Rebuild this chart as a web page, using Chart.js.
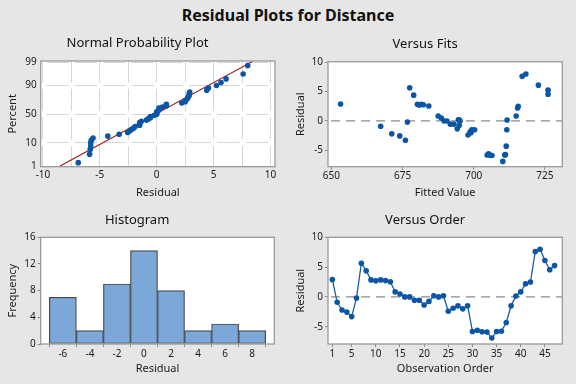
<!DOCTYPE html>
<html>
<head>
<meta charset="utf-8">
<title>Residual Plots for Distance</title>
<script src="https://cdn.jsdelivr.net/npm/chart.js@4.4.1/dist/chart.umd.min.js"></script>
<style>
    html, body { margin: 0; padding: 0; }
    body {
        width: 576px; height: 384px; position: relative; overflow: hidden;
        background: #e6e6e6; font-family: "Noto Sans", "DejaVu Sans", sans-serif;
    }
    #mainTitle {
        position: absolute; left: 0; top: 3px; width: 576px; line-height: 24px;
        text-align: center; font-size: 16px; font-weight: bold; color: #111;
    }
    .panel { position: absolute; width: 288px; }
</style>
</head>
<body>
<div id="mainTitle">Residual Plots for Distance</div>
<div class="panel" style="left:0;top:30px;height:175px"><canvas id="probChart"></canvas></div>
<div class="panel" style="left:288px;top:30px;height:175px"><canvas id="fitsChart"></canvas></div>
<div class="panel" style="left:0;top:205px;height:179px"><canvas id="histChart"></canvas></div>
<div class="panel" style="left:288px;top:205px;height:179px"><canvas id="orderChart"></canvas></div>

<script>
const residuals = [2.9, -0.9, -2.2, -2.55, -3.3, -0.2, 5.65, 4.4, 2.85, 2.7,
    2.85, 2.75, 2.55, 0.85, 0.5, 0.0, 0.0, -0.55, -0.55, -1.35,
    -0.75, 0.2, 0.0, 0.2, -2.4, -1.9, -1.5, -2.0, -1.5, -5.8,
    -5.6, -5.85, -5.9, -6.9, -5.8, -5.75, -4.3, -1.5, 0.15, 0.85,
    2.2, 2.5, 7.6, 8.0, 6.1, 4.55, 5.25];
// fitted values for the same observations ("Versus Fits" panel)
const fittedValues = [653.2, 667.3, 671.2, 674.0, 676.0, 676.7, 677.5, 678.9, 680.2, 680.9,
    681.6, 682.3, 684.2, 687.5, 688.6, 689.6, 690.6, 691.8, 693.0, 694.2,
    694.9, 694.6, 695.2, 694.9, 698.0, 698.7, 699.3, 699.0, 700.3, 704.7,
    705.2, 705.8, 706.4, 710.2, 710.9, 711.1, 711.4, 711.6, 711.7, 714.9,
    715.4, 715.6, 717.0, 718.3, 722.7, 726.1, 726.1];
// histogram
const histBinCenters = [-6, -4, -2, 0, 2, 4, 6, 8];
const histCounts = [7, 2, 9, 14, 8, 2, 3, 2];
// reference line of the normal probability plot
const probLineResidual = [-8.5, 8.45];
const probLinePercent = [1, 99.1];

// tick values
const probXTicks = [-10, -5, 0, 5, 10];
const probXGrid = [-10, -7.5, -5, -2.5, 0, 2.5, 5, 7.5, 10];
const probYTicks = [1, 10, 50, 90, 99];
const fitsXTicks = [650, 675, 700, 725];
const residTicks = [-5, 0, 5, 10];
const histXTicks = [-6, -4, -2, 0, 2, 4, 6, 8];
const histYTicks = [0, 4, 8, 12, 16];
const orderXTicks = [1, 5, 10, 15, 20, 25, 30, 35, 40, 45];

const DOT = '#0b55a6';

Chart.defaults.font.family = '"Noto Sans", "DejaVu Sans", sans-serif';
Chart.defaults.color = '#1a1a1a';
Chart.defaults.animation = false;
Chart.defaults.plugins.legend.display = false;
Chart.defaults.plugins.tooltip.enabled = false;

// inverse normal cdf (Acklam), used by the probability axis
function probit(p) {
    const a = [-39.69683028665376, 220.9460984245205, -275.9285104469687, 138.3577518672690, -30.66479806614716, 2.506628277459239];
    const b = [-54.47609879822406, 161.5858368580409, -155.6989798598866, 66.80131188771972, -13.28068155288572];
    const c = [-0.007784894002430293, -0.3223964580411365, -2.400758277161838, -2.549732539343734, 4.374664141464968, 2.938163982698783];
    const d = [0.007784695709041462, 0.3224671290700398, 2.445134137142996, 3.754408661907416];
    const pl = 0.02425;
    let q, r;
    if (p < pl) {
        q = Math.sqrt(-2 * Math.log(p));
        return (((((c[0] * q + c[1]) * q + c[2]) * q + c[3]) * q + c[4]) * q + c[5]) / ((((d[0] * q + d[1]) * q + d[2]) * q + d[3]) * q + 1);
    }
    if (p > 1 - pl) {
        q = Math.sqrt(-2 * Math.log(1 - p));
        return -(((((c[0] * q + c[1]) * q + c[2]) * q + c[3]) * q + c[4]) * q + c[5]) / ((((d[0] * q + d[1]) * q + d[2]) * q + d[3]) * q + 1);
    }
    q = p - 0.5;
    r = q * q;
    return (((((a[0] * r + a[1]) * r + a[2]) * r + a[3]) * r + a[4]) * r + a[5]) * q / (((((b[0] * r + b[1]) * r + b[2]) * r + b[3]) * r + b[4]) * r + 1);
}

// percent axis on normal probability paper
class ProbitScale extends Chart.LinearScale {
    determineDataLimits() {
        this.min = this.options.min;
        this.max = this.options.max;
    }
    configure() {
        super.configure();
        this._zMin = probit(this.min / 100);
        this._zMax = probit(this.max / 100);
    }
    getPixelForValue(value) {
        return this.getPixelForDecimal((probit(value / 100) - this._zMin) / (this._zMax - this._zMin));
    }
}
ProbitScale.id = 'probit';
ProbitScale.defaults = Chart.LinearScale.defaults;
Chart.register(ProbitScale);

// white plot area, box round it, dashed zero line
const panelDecor = {
    id: 'panelDecor',
    beforeDraw(chart) {
        const {ctx, chartArea: a} = chart;
        ctx.save();
        ctx.fillStyle = '#ffffff';
        ctx.fillRect(a.left, a.top, a.right - a.left, a.bottom - a.top);
        ctx.restore();
    },
    beforeDatasetsDraw(chart, args, opts) {
        if (!opts.zeroLine) return;
        const {ctx, chartArea: a} = chart;
        const y = chart.scales.y.getPixelForValue(0);
        ctx.save();
        ctx.strokeStyle = '#8c8c8c';
        ctx.lineWidth = 1.2;
        ctx.setLineDash([9, 6]);
        ctx.beginPath();
        ctx.moveTo(a.left + 3, y);
        ctx.lineTo(a.right, y);
        ctx.stroke();
        ctx.restore();
    },
    afterDraw(chart) {
        const {ctx, chartArea: a} = chart;
        ctx.save();
        ctx.strokeStyle = '#9a9a9a';
        ctx.lineWidth = 1.3;
        ctx.strokeRect(a.left, a.top, a.right - a.left, a.bottom - a.top);
        ctx.restore();
    }
};

function axis(o) {
    return {
        type: o.type || 'linear',
        min: o.min,
        max: o.max,
        offset: false,
        afterBuildTicks: s => { s.ticks = o.ticks.map(v => ({ value: v })); },
        afterFit: s => { if (s.isHorizontal()) s.height = o.size; else s.width = o.size; },
        grid: {
            display: true,
            drawOnChartArea: !!o.grid,
            drawTicks: !o.grid,
            color: '#d6d6d6',
            tickColor: '#8a8a8a',
            tickLength: 3,
            lineWidth: 1
        },
        border: { display: false, dash: o.dash || [], dashOffset: o.dashOffset || 0 },
        ticks: {
            font: { size: 10 },
            padding: o.tickPad !== undefined ? o.tickPad : 2,
            maxRotation: 0,
            autoSkip: false,
            callback: o.label || (v => v)
        },
        title: { display: true, text: o.title, font: { size: 11 }, padding: o.titlePad }
    };
}

function panelTitle(text, top, bottom) {
    return { display: true, text: text, font: { size: 13, weight: 'normal' }, color: '#111', padding: { top: top, bottom: bottom } };
}

// ---- Normal Probability Plot ----
const n = residuals.length;
const sortedResiduals = [...residuals].sort((a, b) => a - b);
// median ranks (i - 0.3) / (n + 0.4)
const probPoints = sortedResiduals.map((r, i) => ({ x: r, y: 100 * (i + 1 - 0.3) / (n + 0.4) }));

new Chart(document.getElementById('probChart'), {
    type: 'scatter',
    data: {
        datasets: [{
            data: probLineResidual.map((r, i) => ({ x: r, y: probLinePercent[i] })),
            showLine: true,
            borderColor: '#9c1414',
            borderWidth: 1.1,
            pointRadius: 0,
            order: 2
        }, {
            data: probPoints,
            backgroundColor: DOT,
            borderWidth: 0,
            pointRadius: 2.8,
            order: 1
        }]
    },
    options: {
        responsive: true,
        maintainAspectRatio: false,
        layout: { padding: { left: 0, right: 13, top: 0, bottom: 0 } },
        scales: {
            x: axis({ min: -10.2, max: 10.4, ticks: probXGrid, grid: true, size: 38.3, tickPad: 2,
                label: v => (probXTicks.includes(v) ? v : ''),
                dash: [22, 6.5], dashOffset: 0.6,
                title: 'Residual', titlePad: { top: 0, bottom: 5.6 } }),
            y: axis({ type: 'probit', min: 0.92, max: 99.14, ticks: probYTicks, grid: true, size: 40.7, tickPad: 4,
                dash: [22, 6.5], dashOffset: 23,
                title: 'Percent', titlePad: { top: 6.4, bottom: 0 } })
        },
        plugins: {
            title: panelTitle('Normal Probability Plot', 5.2, 10.2),
            panelDecor: { zeroLine: false }
        }
    },
    plugins: [panelDecor]
});

// ---- Versus Fits ----
new Chart(document.getElementById('fitsChart'), {
    type: 'scatter',
    data: {
        datasets: [{
            data: fittedValues.map((f, i) => ({ x: f, y: residuals[i] })),
            backgroundColor: DOT,
            borderWidth: 0,
            pointRadius: 2.8
        }]
    },
    options: {
        responsive: true,
        maintainAspectRatio: false,
        layout: { padding: { left: 0, right: 13.7, top: 0, bottom: 0 } },
        scales: {
            x: axis({ min: 648.8, max: 731.1, ticks: fitsXTicks, size: 38.3, tickPad: 0,
                title: 'Fitted Value', titlePad: { top: 0, bottom: 5.8 } }),
            y: axis({ min: -7.8, max: 10.1, ticks: residTicks, size: 40,
                title: 'Residual', titlePad: { top: 6.7, bottom: 0 } })
        },
        plugins: {
            title: panelTitle('Versus Fits', 6.2, 9.9),
            panelDecor: { zeroLine: true }
        }
    },
    plugins: [panelDecor]
});

// ---- Histogram ----
new Chart(document.getElementById('histChart'), {
    type: 'bar',
    data: {
        datasets: [{
            data: histBinCenters.map((c, i) => ({ x: c, y: histCounts[i] })),
            backgroundColor: '#7ba7d9',
            borderColor: '#474747',
            borderWidth: 1.2,
            borderSkipped: false,
            barPercentage: 1,
            categoryPercentage: 1
        }]
    },
    options: {
        responsive: true,
        maintainAspectRatio: false,
        layout: { padding: { left: 0, right: 13.7, top: 0, bottom: 0 } },
        scales: {
            x: axis({ min: -7.64, max: 9.64, ticks: histXTicks, size: 40, tickPad: 1,
                title: 'Residual', titlePad: { top: 0, bottom: 8.4 } }),
            y: axis({ min: 0, max: 16, ticks: histYTicks, size: 40.7,
                title: 'Frequency', titlePad: { top: 6.4, bottom: 0 } })
        },
        plugins: {
            title: panelTitle('Histogram', 7.9, 8.8),
            panelDecor: { zeroLine: false }
        }
    },
    plugins: [panelDecor]
});

// ---- Versus Order ----
new Chart(document.getElementById('orderChart'), {
    type: 'scatter',
    data: {
        datasets: [{
            data: residuals.map((r, i) => ({ x: i + 1, y: r })),
            showLine: true,
            borderColor: '#1b5ca8',
            borderWidth: 1.3,
            backgroundColor: DOT,
            pointBorderWidth: 0,
            pointRadius: 2.8
        }]
    },
    options: {
        responsive: true,
        maintainAspectRatio: false,
        layout: { padding: { left: 0, right: 13.7, top: 0, bottom: 0 } },
        scales: {
            x: axis({ min: 0.1, max: 48.6, ticks: orderXTicks, size: 40, tickPad: 1,
                title: 'Observation Order', titlePad: { top: 0, bottom: 8.4 } }),
            y: axis({ min: -7.9, max: 10, ticks: residTicks, size: 40,
                title: 'Residual', titlePad: { top: 6.7, bottom: 0 } })
        },
        plugins: {
            title: panelTitle('Versus Order', 7.9, 8.8),
            panelDecor: { zeroLine: true }
        }
    },
    plugins: [panelDecor]
});
</script>
</body>
</html>
